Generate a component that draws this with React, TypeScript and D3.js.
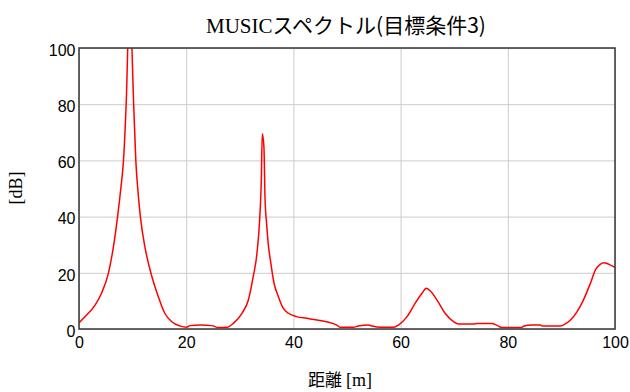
import React, { useEffect, useRef } from 'react';
import * as d3 from 'd3';

// distance [m] and MUSIC spectrum [dB]
const DISTANCE = [
  0, 1.1, 3.0, 4.2, 5.5, 6.4, 7.2, 7.8, 8.3, 8.8, 9.45, 10.2, 10.6, 11.0, 11.45, 12.3, 13.4, 14.8, 16.0, 17.3,
  18.8, 20.1, 20.7, 22.6, 24.8, 26.0, 27.6, 28.8, 30.4, 31.6, 32.5, 33.2, 33.7, 34.0, 34.2, 34.5, 34.7, 35.0,
  35.3, 35.8, 36.4, 37.2, 38.1, 39.1, 40.6, 42.5, 44.4, 46.2, 48.1, 48.7, 51.2, 52.1, 54.0, 54.6, 56.2, 58.7,
  59.6, 61.2, 62.7, 64.0, 64.8, 65.5, 66.8, 68.3, 69.9, 70.8, 73.6, 74.2, 77.0, 78.0, 78.9, 82.6, 82.9, 84.5,
  86.1, 86.4, 89.8, 90.7, 91.7, 92.9, 94.1, 95.4, 96.4, 97.3, 97.9, 98.8, 100,
];
const SPECTRUM_DB = [
  2.2, 4.4, 8.5, 12.7, 20.0, 29.0, 40.0, 50.0, 60.0, 80.0, 118, 80.0, 60.0, 49.0, 40.0, 29.2, 20.0, 11.5, 5.6, 2.6,
  1.1, 0.6, 1.2, 1.4, 1.2, 0.5, 0.6, 2.0, 5.6, 10.3, 18.6, 26.9, 38.7, 51.8, 69.5, 64.8, 47.0, 37.5,
  30.4, 23.3, 16.2, 11.5, 7.4, 5.6, 4.4, 3.8, 3.2, 2.6, 1.4, 0.6, 0.6, 1.1, 1.4, 1.1, 0.6, 0.6,
  1.4, 4.4, 9.1, 12.7, 14.5, 13.6, 10.3, 5.6, 2.6, 1.8, 1.8, 2.0, 2.0, 1.3, 0.5, 0.5, 1.0, 1.4,
  1.4, 1.1, 1.1, 1.8, 3.2, 6.1, 10.3, 16.2, 21.2, 23.1, 23.6, 23.1, 21.9,
];
const X_TICKS = [0, 20, 40, 60, 80, 100];
const Y_TICKS = [0, 20, 40, 60, 80, 100];

const TITLE_LATIN = 'MUSIC';
const TITLE_JP = 'スペクトル(目標条件3)';
const X_LABEL = '距離';
const X_UNIT = '[m]';
const Y_LABEL = '[dB]';

const WIDTH = 630;
const HEIGHT = 392;
const MARGIN = { top: 48, right: 15, bottom: 63, left: 79 };
const TICK_FONT = "'Liberation Sans Narrow', 'Liberation Sans', Arial, sans-serif";
const SERIF = "'Liberation Serif', 'Times New Roman', serif";
const JP = "'Noto Sans CJK JP', sans-serif";

const App = () => {
  const svgRef = useRef<SVGSVGElement | null>(null);

  useEffect(() => {
    const innerW = WIDTH - MARGIN.left - MARGIN.right;
    const innerH = HEIGHT - MARGIN.top - MARGIN.bottom;
    const x = d3.scaleLinear().domain([0, 100]).range([0, innerW]);
    const y = d3.scaleLinear().domain([0, 100]).range([innerH, 0]);

    const svg = d3.select(svgRef.current);
    svg.selectAll('*').remove();

    const chart = svg.append('g').attr('transform', `translate(${MARGIN.left},${MARGIN.top})`);

    // grid + tick labels
    const xAxis = chart.append('g')
      .attr('transform', `translate(0,${innerH})`)
      .call(d3.axisBottom(x).tickValues(X_TICKS).tickSize(-innerH).tickPadding(8));
    const yAxis = chart.append('g')
      .call(d3.axisLeft(y).tickValues(Y_TICKS).tickSize(-innerW).tickPadding(3.5));

    [xAxis, yAxis].forEach((g) => {
      g.select('.domain').remove();
      g.attr('font-family', TICK_FONT).attr('font-size', 16);
      g.selectAll('line').attr('stroke', '#cccccc').attr('stroke-width', 1);
      g.selectAll('text').attr('fill', '#000');
    });
    yAxis.selectAll('text').attr('dy', '0.45em');

    // spectrum line, clipped to the plot box
    svg.append('defs').append('clipPath').attr('id', 'plot-clip')
      .append('rect').attr('width', innerW).attr('height', innerH);

    const line = d3.line<number>()
      .x((d, i) => x(DISTANCE[i]))
      .y((d) => y(d))
      .curve(d3.curveMonotoneX);

    chart.append('path')
      .datum(SPECTRUM_DB)
      .attr('clip-path', 'url(#plot-clip)')
      .attr('fill', 'none')
      .attr('stroke', '#ff0000')
      .attr('stroke-width', 1.5)
      .attr('d', line);

    chart.append('rect')
      .attr('width', innerW)
      .attr('height', innerH)
      .attr('fill', 'none')
      .attr('stroke', '#404040')
      .attr('stroke-width', 1.6);

    // title and axis labels
    const title = svg.append('text')
      .attr('x', 346)
      .attr('y', 33)
      .attr('text-anchor', 'middle')
      .attr('fill', '#000');
    title.append('tspan').attr('font-family', SERIF).attr('font-size', 21).text(TITLE_LATIN);
    title.append('tspan').attr('font-family', JP).attr('font-size', 21).text(TITLE_JP);

    const xLabel = svg.append('text')
      .attr('x', 340)
      .attr('y', 386)
      .attr('text-anchor', 'middle')
      .attr('fill', '#000');
    xLabel.append('tspan').attr('font-family', JP).attr('font-size', 17).text(X_LABEL + ' ');
    xLabel.append('tspan').attr('font-family', SERIF).attr('font-size', 18).text(X_UNIT);

    svg.append('text')
      .attr('transform', `translate(22,188) rotate(-90)`)
      .attr('text-anchor', 'middle')
      .attr('font-family', SERIF)
      .attr('font-size', 18)
      .attr('fill', '#000')
      .text(Y_LABEL);
  }, []);

  return (
    <svg
      ref={svgRef}
      width={WIDTH}
      height={HEIGHT}
      style={{ position: 'absolute', left: 0, top: 0, background: '#fff' }}
    />
  );
};

export default App;
